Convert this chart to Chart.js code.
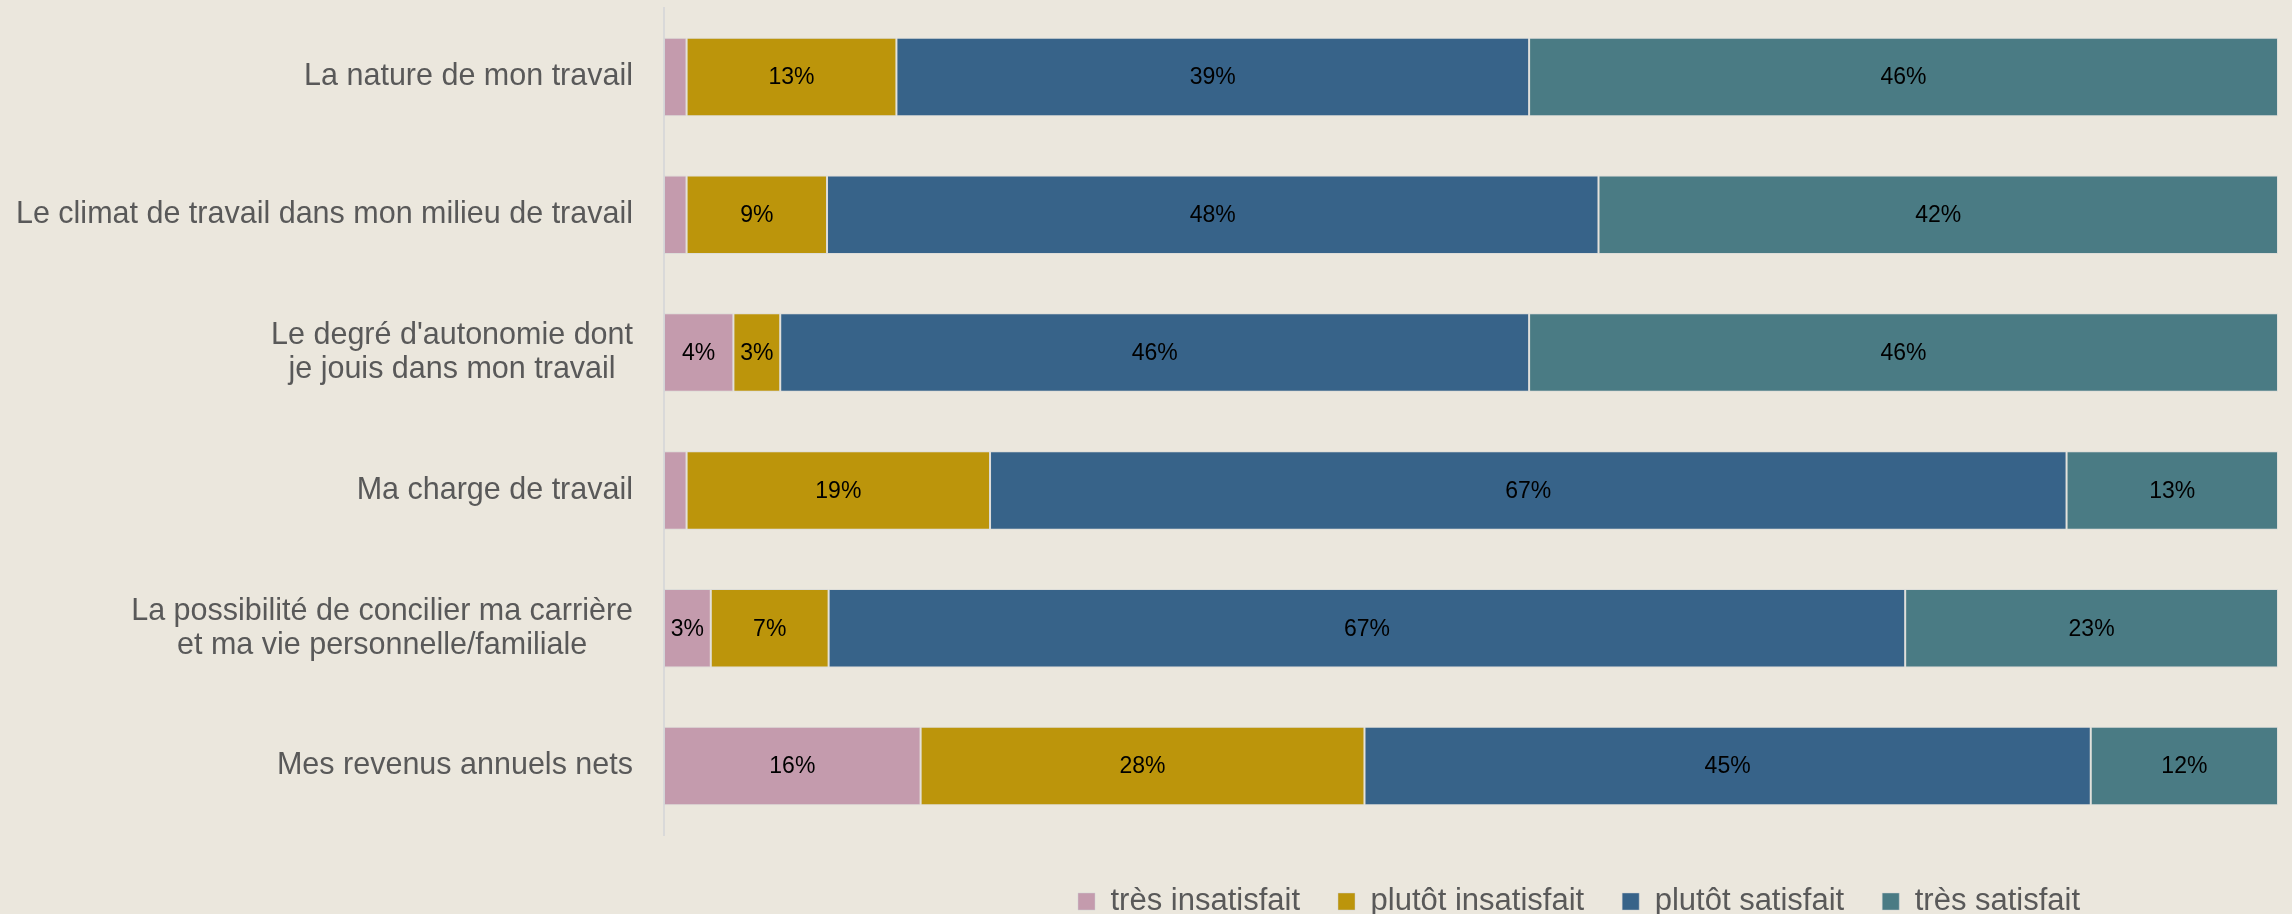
<!DOCTYPE html>
<html lang="fr">

<head>
  <meta charset="UTF-8">
  <title>Satisfaction au travail</title>
  <script src="https://cdn.jsdelivr.net/npm/chart.js"></script>
  <style>
    body {
      margin: 0;
      background: #EBE7DD;
    }

    .container-grafico {
      width: 2292px;
      height: 914px;
    }
  </style>
</head>

<body>

  <div class="container-grafico">
    <canvas id="grafico-satisfacao"></canvas>
  </div>

  <script>

    // libellés de l'axe (une ligne par élément)
    const categorias = [
      ['La nature de mon travail'],
      ['Le climat de travail dans mon milieu de travail'],
      ["Le degré d'autonomie dont", 'je jouis dans mon travail'],
      ['Ma charge de travail'],
      ['La possibilité de concilier ma carrière', 'et ma vie personnelle/familiale'],
      ['Mes revenus annuels nets']
    ];

    const series = ['très insatisfait', 'plutôt insatisfait', 'plutôt satisfait', 'très satisfait'];

    const tresInsatisfait = [1.4, 1.4, 4.3, 1.4, 2.9, 15.9];
    const plutotInsatisfait = [13.0, 8.7, 2.9, 18.8, 7.3, 27.5];
    const plutotSatisfait = [39.2, 47.8, 46.4, 66.7, 66.7, 45.0];
    const tresSatisfait = [46.4, 42.1, 46.4, 13.1, 23.1, 11.6];

    const cores = ['#C49BAD', '#BC950B', '#376389', '#4A7B84'];

    const fonte = "'Liberation Sans', Arial, sans-serif";

    // rótulos do eixo y, centrados linha a linha
    const rotulosEixo = {
      id: 'rotulosEixo',
      afterDraw(chart) {
        const c = chart.ctx;
        const y = chart.scales.y;
        const direita = chart.chartArea.left - 31;
        c.save();
        c.font = '30.5px ' + fonte;
        c.fillStyle = '#595959';
        c.textAlign = 'center';
        c.textBaseline = 'middle';
        categorias.forEach((linhas, i) => {
          const largura = Math.max(...linhas.map(l => c.measureText(l).width));
          const meio = y.getPixelForValue(i);
          const alturaLinha = 34;
          linhas.forEach((l, k) => {
            const yy = meio + (k - (linhas.length - 1) / 2) * alturaLinha;
            c.fillText(l, direita - largura / 2, yy);
          });
        });
        c.restore();
      }
    };

    // valores dentro das barras
    const valoresBarras = {
      id: 'valoresBarras',
      afterDatasetsDraw(chart) {
        const c = chart.ctx;
        c.save();
        c.font = '23px ' + fonte;
        c.fillStyle = '#000';
        c.textAlign = 'center';
        c.textBaseline = 'middle';
        chart.data.datasets.forEach((ds, i) => {
          chart.getDatasetMeta(i).data.forEach((barra, j) => {
            const v = ds.data[j];
            if (v < 2) return;
            const p = barra.getCenterPoint();
            c.fillText(Math.round(v) + '%', p.x, p.y + 1);
          });
        });
        c.restore();
      }
    };

    // a legenda fica deslocada para a direita no original
    const posicaoLegenda = {
      id: 'posicaoLegenda',
      afterLayout(chart) {
        chart.legend.left = chart.chartArea.left + 376;
        chart.legend.top += 13;
      }
    };

    const ctx = document.getElementById('grafico-satisfacao');

    new Chart(ctx, {
      type: 'bar',
      data: {
        labels: categorias,
        datasets: [tresInsatisfait, plutotInsatisfait, plutotSatisfait, tresSatisfait].map((d, i) => ({
          label: series[i],
          data: d,
          backgroundColor: cores[i],
          borderColor: 'rgba(205, 208, 212, 0.45)',
          borderWidth: 1,
          borderSkipped: false,
          barPercentage: 0.57,
          categoryPercentage: 1
        }))
      },
      options: {
        indexAxis: 'y',
        responsive: true,
        maintainAspectRatio: false,
        animation: false,
        layout: {
          padding: { top: 8, right: 14, left: 0, bottom: 0 }
        },
        plugins: {
          tooltip: { enabled: false },
          legend: {
            position: 'bottom',
            align: 'start',
            maxHeight: 84,
            labels: {
              boxWidth: 17,
              boxHeight: 17,
              padding: 38,
              color: '#595959',
              font: { family: fonte, size: 31 }
            }
          }
        },
        scales: {
          x: {
            stacked: true,
            display: false,
            min: 0,
            max: 100
          },
          y: {
            stacked: true,
            grid: { display: false },
            ticks: { display: false },
            border: { color: '#D9D9D9', width: 2 },
            afterFit: (s) => { s.width = 664; }
          }
        }
      },
      plugins: [rotulosEixo, valoresBarras, posicaoLegenda]
    });

  </script>

</body>

</html>
